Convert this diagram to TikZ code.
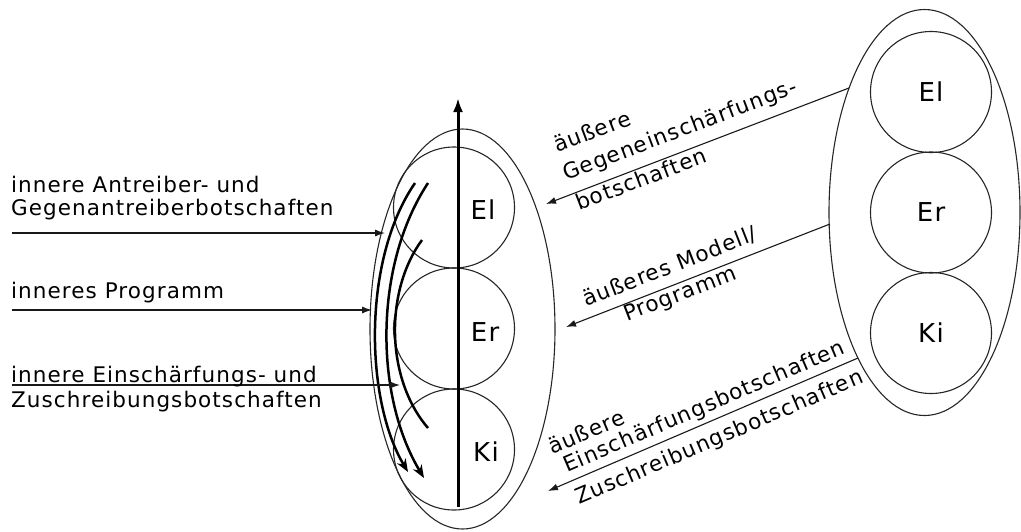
\documentclass[tikz,border=0pt]{standalone}
\usepackage{fontspec}
\setmainfont[LetterSpace=5]{DejaVu Sans}
\usetikzlibrary{arrows.meta,shapes.geometric}
\begin{document}
\begin{tikzpicture}[x=1pt,y=-1pt,
  outline/.style={draw=black!85, line width=1.1pt},
  bigcircle/.style={outline, circle, minimum size=121pt, inner sep=0pt, font=\fontsize{26}{30}\selectfont},
  bigellipse/.style={outline, ellipse, inner sep=0pt},
  lbl/.style={font=\fontsize{26}{30}\selectfont, inner sep=0pt},
  txt/.style={font=\fontsize{21.5}{24}\selectfont, inner sep=0pt, anchor=base west},
  thinarrow/.style={line width=1.1pt, draw=black!90, -{Latex[length=10pt,width=7pt]}},
  curvearrow/.style={line width=2.5pt, -{Stealth[length=13pt,width=10pt]}},
  curveplain/.style={line width=2.5pt}]
\useasboundingbox (0,0) rectangle (1021,531);

% left ellipse with circles
\node[bigellipse, minimum width=185pt, minimum height=400pt] (L) at (462.5,329) {};
\node[bigcircle] (LEl) at (454,207.5) {};
\node[bigcircle] (LEr) at (454,328.5) {};
\node[bigcircle] (LKi) at (454,449.5) {};
\node[lbl] (tLEl) at (483,210) {El};
\node[lbl] (tLEr) at (485,332) {Er};
\node[lbl] (tLKi) at (486,452) {Ki};

% right ellipse with circles
\node[bigellipse, minimum width=191pt, minimum height=406pt] (R) at (924.5,212.5) {};
\node[bigcircle] (REl) at (931,92) {El};
\node[bigcircle] (REr) at (931,212.5) {Er};
\node[bigcircle] (RKi) at (931,333) {Ki};

% vertical arrow
\coordinate (vb) at (458,507);
\coordinate (vt) at (458,98);
\draw[line width=3pt, -{Latex[length=14pt,width=10pt]}] (vb) -- (vt);

% curved arrows
\coordinate (a1) at (415,183); \coordinate (a2) at (408,472);
\coordinate (b1) at (428,183); \coordinate (b2) at (424,478);
\coordinate (c1) at (422,240); \coordinate (c2) at (428,428);
\draw[curvearrow] (a1) .. controls (362,260) and (365,400) .. (a2);
\draw[curvearrow] (b1) .. controls (374,265) and (374,395) .. (b2);
\draw[curveplain] (c1) .. controls (385,290) and (385,378) .. (c2);

% left arrows and texts
\coordinate (l1s) at (12,233); \coordinate (l1e) at (385,233);
\coordinate (l2s) at (12,310); \coordinate (l2e) at (372,310);
\coordinate (l3s) at (12,385); \coordinate (l3e) at (400,385);
\draw[thinarrow] (l1s) -- (l1e);
\draw[thinarrow] (l2s) -- (l2e);
\draw[thinarrow] (l3s) -- (l3e);
\node[txt] (t1a) at (11,192) {innere Antreiber- und};
\node[txt] (t1b) at (11,215) {Gegenantreiberbotschaften};
\node[txt] (t2) at (11,298) {inneres Programm};
\node[txt] (t3a) at (11,382) {innere Einschärfungs- und};
\node[txt] (t3b) at (11,407) {Zuschreibungsbotschaften};

% right arrows and texts
\coordinate (r1s) at (849,88);  \coordinate (r1e) at (546,204);
\coordinate (r2s) at (830,224); \coordinate (r2e) at (566,327);
\coordinate (r3s) at (858,358); \coordinate (r3e) at (548,491);
\draw[thinarrow] (r1s) -- (r1e);
\draw[thinarrow] (r2s) -- (r2e);
\draw[thinarrow] (r3s) -- (r3e);

\node[txt, rotate=20.8] (r1a) at (557,153) {äußere};
\node[txt, rotate=20.8] (r1b) at (566,181) {Gegeneinschärfungs-};
\node[txt, rotate=20.8] (r1c) at (579,211) {botschaften};
\node[txt, rotate=21.3] (r2a) at (586,307) {äußeres Modell/};
\node[txt, rotate=21.3] (r2b) at (627,322) {Programm};
\node[txt, rotate=23.2] (r3a) at (552,455) {äußere};
\node[txt, rotate=23.2] (r3b) at (567,473) {Einschärfungsbotschaften};
\node[txt, rotate=23.2] (r3c) at (579,505) {Zuschreibungsbotschaften};
\end{tikzpicture}
\end{document}
